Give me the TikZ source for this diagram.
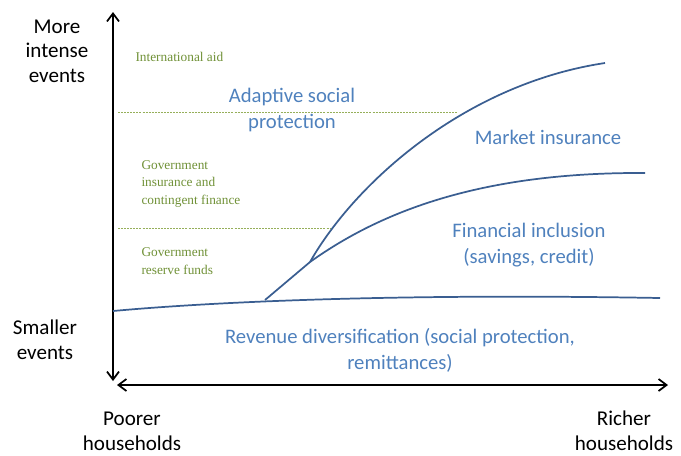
\documentclass[tikz,border=0pt]{standalone}
\usepackage{fontspec}
\setmainfont{Carlito}
\newfontfamily\greenserif{Liberation Serif}
\usetikzlibrary{arrows.meta}

\definecolor{lblblue}{RGB}{79,129,189}
\definecolor{curveblue}{RGB}{58,94,145}
\definecolor{olivegreen}{RGB}{112,145,55}
\definecolor{dashgreen}{RGB}{150,175,90}

\tikzset{every picture/.style={line width=0.75pt}}
\tikzset{
  axislbl/.style={inner sep=0.75pt, align=center, font=\fontsize{15.8}{18.5}\selectfont, text=black},
  bluelbl/.style={inner sep=0.75pt, align=center, font=\fontsize{15.5}{19.5}\selectfont, text=lblblue},
  greenlbl/.style={inner sep=0.75pt, align=left, font=\greenserif\fontsize{10}{13}\selectfont, text=olivegreen},
  curve/.style={draw=curveblue, line width=1.3pt},
  levelline/.style={draw=dashgreen, line width=0.7pt, dash pattern=on 1.5pt off 0.8pt},
  axis/.style={draw=black, line width=1.3pt, {Straight Barb[length=6pt,width=9pt]}-{Straight Barb[length=6pt,width=9pt]}}
}

\begin{document}
\begin{tikzpicture}[x=0.75pt,y=0.75pt,yscale=-1,xscale=1]
\useasboundingbox (0,0) rectangle (681,455);

% Axes
\coordinate (ytop) at (113,12);
\coordinate (ybot) at (113,381);
\coordinate (xleft) at (117,385);
\coordinate (xright) at (668,385);
\draw [axis] (ytop) -- (ybot) ;
\draw [axis] (xleft) -- (xright) ;

% Level lines
\coordinate (upA) at (118,112);
\coordinate (upB) at (457,112);
\coordinate (loA) at (118,228);
\coordinate (loB) at (330,228);
\draw [levelline] (upA) -- (upB) ;
\draw [levelline] (loA) -- (loB) ;

% Curves
\coordinate (start) at (113,311);
\coordinate (fork) at (265,300);
\coordinate (branch) at (310,262);
\draw [curve] (start) .. controls (200,303) and (380,293) .. (660,298) ;
\draw [curve] (fork) -- (branch) .. controls (380,212) and (480,172) .. (645,173) ;
\draw [curve] (branch) .. controls (355,183) and (465,84) .. (605,63) ;

% Text Node
\draw (57,51) node (moreev) [axislbl] {More\\intense\\events};
% Text Node
\draw (45,340) node (smallev) [axislbl] {Smaller\\events};
% Text Node
\draw (132,431) node (poorer) [axislbl] {Poorer\\households};
% Text Node
\draw (624,431) node (richer) [axislbl] {Richer\\households};
% Text Node
\draw (134,57) node (intaid) [greenlbl, anchor=west] {International aid};
% Text Node
\draw (140,184) node (govins) [greenlbl, anchor=west] {Government\\insurance and\\contingent finance};
% Text Node
\draw (140,261) node (govres) [greenlbl, anchor=west] {Government\\reserve funds};
% Text Node
\draw (292,110) node (adaptive) [bluelbl] {Adaptive social\\protection};
% Text Node
\draw (548,137) node (market) [bluelbl] {Market insurance};
% Text Node
\draw (529,245) node (fininc) [bluelbl] {Financial inclusion\\(savings, credit)};
% Text Node
\draw (400,350) node (revenue) [bluelbl] {Revenue diversification (social protection,\\remittances)};

\end{tikzpicture}
\end{document}
